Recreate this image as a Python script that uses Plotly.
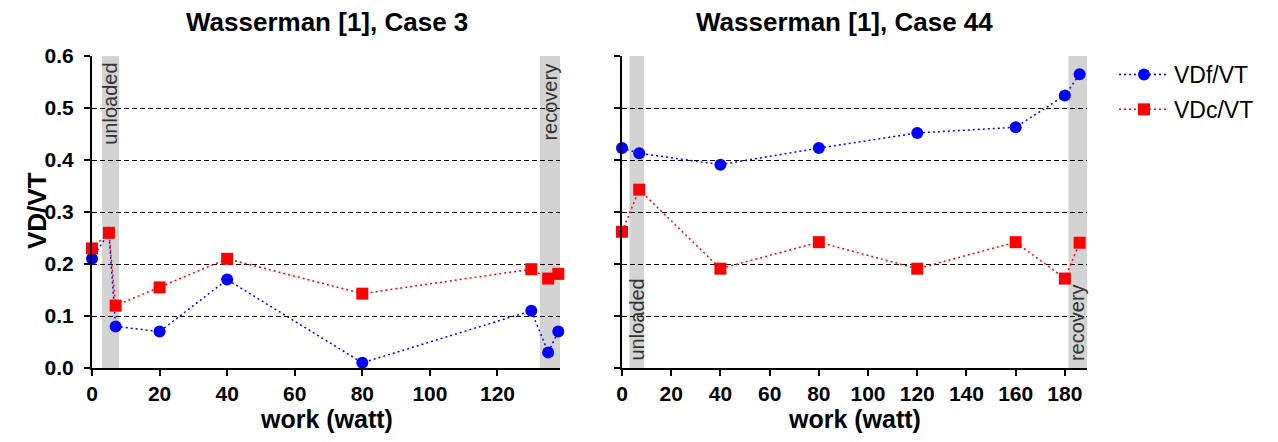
import plotly.graph_objects as go

# ---------------- data ----------------
case3_work = [0, 5, 7, 20, 40, 80, 130, 135, 138]
case3_vdf = [0.21, 0.26, 0.08, 0.07, 0.17, 0.01, 0.11, 0.03, 0.07]
case3_vdc = [0.23, 0.26, 0.12, 0.155, 0.21, 0.143, 0.19, 0.172, 0.181]

case44_work = [0, 7, 40, 80, 120, 160, 180, 186]
case44_vdf = [0.423, 0.413, 0.391, 0.423, 0.452, 0.463, 0.524, 0.565]
case44_vdc = [0.262, 0.343, 0.191, 0.242, 0.191, 0.242, 0.172, 0.241]

case3_unloaded = [3, 8]
case3_recovery = [132.5, 138.5]
case44_unloaded = [3, 9]
case44_recovery = [181.5, 189]

titles = ["Wasserman [1], Case 3", "Wasserman [1], Case 44"]
series_names = ["VDf/VT", "VDc/VT"]
x_title = "work (watt)"
y_title = "VD/VT"
y_ticks = [0.0, 0.1, 0.2, 0.3, 0.4, 0.5, 0.6]
x_ticks_case3 = [0, 20, 40, 60, 80, 100, 120]
x_ticks_case44 = [0, 20, 40, 60, 80, 100, 120, 140, 160, 180]

# ---------------- figure ----------------
OFF = 8  # page body margin
W, H = 1278 - 2 * OFF, 442 - 2 * OFF
FONT = "Liberation Sans, Arial, sans-serif"
BLUE = "#0000FF"
RED = "#FF0000"
DOT = "2px,3px"


def px(x):
    return (x - OFF) / W


def py(y):
    return 1 - (y - OFF) / H


fig = go.Figure()


def add_series(x, yf, yc, xa, ya, show):
    fig.add_trace(go.Scatter(
        x=x, y=yf, name=series_names[0], xaxis=xa, yaxis=ya,
        mode="lines+markers", showlegend=show, legendgroup="f", cliponaxis=False,
        line=dict(color=BLUE, width=1.5, dash=DOT),
        marker=dict(symbol="circle", size=12, color=BLUE)))
    fig.add_trace(go.Scatter(
        x=x, y=yc, name=series_names[1], xaxis=xa, yaxis=ya,
        mode="lines+markers", showlegend=show, legendgroup="c", cliponaxis=False,
        line=dict(color=RED, width=1.5, dash=DOT),
        marker=dict(symbol="square", size=12, color=RED)))


add_series(case3_work, case3_vdf, case3_vdc, "x", "y", True)
add_series(case44_work, case44_vdf, case44_vdc, "x2", "y2", False)

xdom1 = [px(92), px(560)]
xdom2 = [px(622), px(1087)]
ydom = [py(368), py(56)]

common_x = dict(
    showline=True, linecolor="black", linewidth=2, mirror=False,
    ticks="outside", ticklen=6, tickwidth=1.5, tickcolor="black",
    showgrid=False, zeroline=False, automargin=False,
    tickfont=dict(family=FONT, size=21, color="black", weight="bold"),
)
common_y = dict(
    range=[0, 0.6], tickvals=y_ticks, tickformat=".1f",
    showline=True, linecolor="black", linewidth=2,
    ticks="outside", ticklen=6, tickwidth=1.5, tickcolor="black",
    showgrid=True, gridcolor="black", gridwidth=1, griddash="5px,3px",
    zeroline=False, automargin=False,
    tickfont=dict(family=FONT, size=21, color="black", weight="bold"),
)

fig.update_layout(
    width=W, height=H,
    margin=dict(l=0, r=0, t=0, b=0, pad=0, autoexpand=False),
    paper_bgcolor="white", plot_bgcolor="rgba(0,0,0,0)",
    font=dict(family=FONT, color="black"),
    xaxis=dict(common_x, domain=xdom1, range=[0, 138.5], tickvals=x_ticks_case3, anchor="y"),
    yaxis=dict(common_y, domain=ydom, anchor="x", ticklabelstandoff=6),
    xaxis2=dict(common_x, domain=xdom2, range=[0, 189], tickvals=x_ticks_case44, anchor="y2"),
    yaxis2=dict(common_y, domain=ydom, anchor="x2", showticklabels=False),
    legend=dict(x=px(1114), y=py(53), xanchor="left", yanchor="top",
                font=dict(family=FONT, size=23, color="black"),
                bgcolor="rgba(0,0,0,0)", tracegroupgap=2, itemwidth=50),
    showlegend=True,
)

BAND = "#D3D3D3"
shapes = []
for xr, xref, yref in [(case3_unloaded, "x", "y"), (case3_recovery, "x", "y"),
                       (case44_unloaded, "x2", "y2"), (case44_recovery, "x2", "y2")]:
    shapes.append(dict(type="rect", xref=xref, yref=yref, x0=xr[0], x1=xr[1],
                       y0=0, y1=0.6, fillcolor=BAND, line=dict(width=0), layer="below"))
fig.update_layout(shapes=shapes)

ann = []
band_font = dict(family=FONT, size=20, color="#333333")
for xr, xref, yref, label, top in [
        (case3_unloaded, "x", "y", "unloaded", True),
        (case3_recovery, "x", "y", "recovery", True),
        (case44_unloaded, "x2", "y2", "unloaded", False),
        (case44_recovery, "x2", "y2", "recovery", False)]:
    ann.append(dict(x=(xr[0] + xr[1]) / 2, y=0.59 if top else 0.01, xref=xref, yref=yref,
                    text=label, textangle=-90, showarrow=False, font=band_font,
                    xanchor="center", yanchor="top" if top else "bottom"))

title_font = dict(family=FONT, size=26, color="black")
for cx, t in [(327, titles[0]), (844, titles[1])]:
    ann.append(dict(x=px(cx), y=py(22), xref="paper", yref="paper",
                    text="<b>%s</b>" % t, showarrow=False, font=title_font,
                    xanchor="center", yanchor="middle"))
for dom in (xdom1, xdom2):
    ann.append(dict(x=(dom[0] + dom[1]) / 2, y=0, xref="paper", yref="paper",
                    text="<b>%s</b>" % x_title, showarrow=False,
                    font=dict(family=FONT, size=25, color="black"),
                    xanchor="center", yanchor="bottom", borderpad=0))
ann.append(dict(x=px(37), y=py(211), xref="paper", yref="paper",
                text="<b>%s</b>" % y_title, showarrow=False, textangle=-90,
                font=title_font, xanchor="center", yanchor="middle"))
fig.update_layout(annotations=ann)

fig.write_html("out.html")
